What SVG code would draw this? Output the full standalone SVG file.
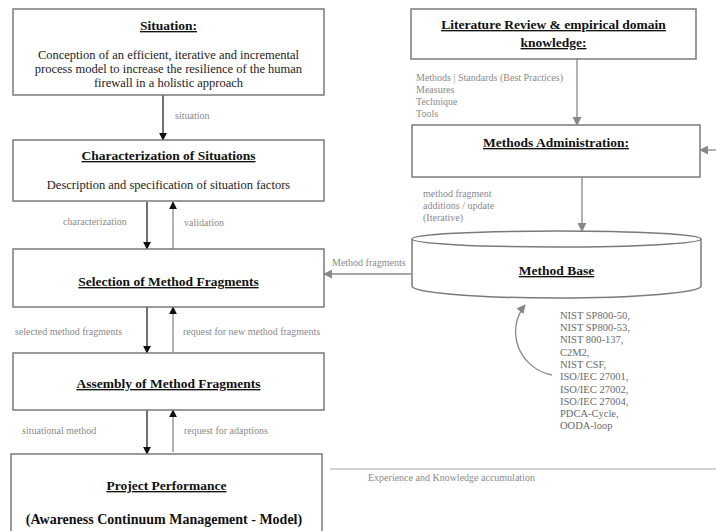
<svg xmlns="http://www.w3.org/2000/svg" width="716" height="531" viewBox="0 0 716 531">
<defs>
<style>
.box{fill:#fff;stroke:#7a7a7a;stroke-width:1.5}
.t{font-family:"Liberation Serif","Times New Roman",serif;font-weight:bold;font-size:13.5px;fill:#111;text-anchor:middle;text-decoration:underline}
.b{font-family:"Liberation Serif","Times New Roman",serif;font-size:12.5px;fill:#222;text-anchor:middle}
.l{font-family:"Liberation Serif","Times New Roman",serif;font-size:10px;fill:#8a8a8a}
.s{font-family:"Liberation Serif","Times New Roman",serif;font-size:10.5px;fill:#6a6a6a}
.ab{fill:none;stroke:#222;stroke-width:1.3}
.ag{fill:none;stroke:#888;stroke-width:1.3}
</style>
<marker id="hb" viewBox="0 0 10 10" refX="9" refY="5" markerWidth="8" markerHeight="8" orient="auto" markerUnits="userSpaceOnUse"><path d="M0,0 L10,5 L0,10 z" fill="#111"/></marker>
<marker id="hg" viewBox="0 0 10 10" refX="9" refY="5" markerWidth="9" markerHeight="9" orient="auto" markerUnits="userSpaceOnUse"><path d="M0,0 L10,5 L0,10 z" fill="#888"/></marker>
</defs>
<rect width="716" height="531" fill="#fff"/>

<g id="connectors">
<line class="ab" x1="163" y1="95" x2="163" y2="140" marker-end="url(#hb)"/>
<line class="ab" x1="147" y1="202" x2="147" y2="249" marker-end="url(#hb)"/>
<line class="ag" x1="173" y1="249" x2="173" y2="202" marker-end="url(#hb)"/>
<line class="ab" x1="147" y1="307" x2="147" y2="353" marker-end="url(#hb)"/>
<line class="ag" x1="173" y1="352" x2="173" y2="307" marker-end="url(#hb)"/>
<line class="ab" x1="147" y1="410" x2="147" y2="454" marker-end="url(#hb)"/>
<line class="ag" x1="173" y1="452" x2="173" y2="410" marker-end="url(#hb)"/>
<line class="ag" x1="577" y1="59" x2="577" y2="125" marker-end="url(#hg)"/>
<line class="ag" x1="582" y1="177" x2="582" y2="231" marker-end="url(#hg)"/>
<line class="ag" x1="411" y1="274" x2="324" y2="274" marker-end="url(#hg)"/>
<line class="ag" x1="716" y1="150" x2="700" y2="150" marker-end="url(#hg)"/>
<path class="ag" d="M552,375 C518,368 505,330 525,305" marker-end="url(#hg)"/>
<line x1="330" y1="469" x2="716" y2="469" stroke="#aaa" stroke-width="1.2"/>
<text class="l" x="175" y="118.5">situation</text>
<text class="l" x="63" y="224.5">characterization</text>
<text class="l" x="184" y="225.5">validation</text>
<text class="l" x="15" y="334.5">selected method fragments</text>
<text class="l" x="183" y="334.5">request for new method fragments</text>
<text class="l" x="22" y="433.5">situational method</text>
<text class="l" x="184" y="433.5">request for adaptions</text>
<text class="l" x="332" y="265.5">Method fragments</text>
<text class="l" x="416" y="80.5">Methods | Standards (Best Practices)</text>
<text class="l" x="416" y="92.5">Measures</text>
<text class="l" x="416" y="104.5">Technique</text>
<text class="l" x="416" y="116.5">Tools</text>
<text class="l" x="423" y="196.5">method fragment</text>
<text class="l" x="423" y="208.5">additions / update</text>
<text class="l" x="423" y="220.5">(Iterative)</text>
<text class="l" x="368" y="480.5">Experience and Knowledge accumulation</text>
</g>

<g id="situation">
<rect class="box" x="13" y="9" width="311" height="86"/>
<text class="t" x="168.5" y="30">Situation:</text>
<text class="b" x="168.5" y="59">Conception of an efficient, iterative and incremental</text>
<text class="b" x="168.5" y="73">process model to increase the resilience of the human</text>
<text class="b" x="168.5" y="87">firewall in a holistic approach</text>
</g>

<g id="characterization">
<rect class="box" x="13" y="140" width="311" height="61"/>
<text class="t" x="168.5" y="160">Characterization of Situations</text>
<text class="b" x="168.5" y="189">Description and specification of situation factors</text>
</g>

<g id="selection">
<rect class="box" x="13" y="249" width="311" height="58"/>
<text class="t" x="168.5" y="286">Selection of Method Fragments</text>
</g>

<g id="assembly">
<rect class="box" x="13" y="353" width="311" height="57"/>
<text class="t" x="168.5" y="388">Assembly of Method Fragments</text>
</g>

<g id="project">
<rect class="box" x="11" y="454" width="311" height="90"/>
<text class="t" x="166.5" y="490">Project Performance</text>
<text class="t" x="164" y="524" style="text-decoration:none;font-size:14px">(Awareness Continuum Management - Model)</text>
</g>

<g id="literature">
<rect class="box" x="411" y="9" width="285" height="50"/>
<text class="t" x="553.5" y="29">Literature Review &amp; empirical domain</text>
<text class="t" x="553.5" y="47">knowledge:</text>
</g>

<g id="administration">
<rect class="box" x="412" y="125" width="288" height="52"/>
<text class="t" x="556" y="147">Methods Administration:</text>
</g>

<g id="methodbase">
<path class="box" d="M412,239 L412,286 A144.5,12 0 0 0 701,286 L701,239"/>
<ellipse class="box" cx="556.5" cy="239" rx="144.5" ry="8"/>
<text class="t" x="556.5" y="275">Method Base</text>
</g>

<g id="standards">
<text class="s" x="560" y="318.7">NIST SP800-50,</text>
<text class="s" x="560" y="331">NIST SP800-53,</text>
<text class="s" x="560" y="343.3">NIST 800-137,</text>
<text class="s" x="560" y="355.6">C2M2,</text>
<text class="s" x="560" y="367.9">NIST CSF,</text>
<text class="s" x="560" y="380.2">ISO/IEC 27001,</text>
<text class="s" x="560" y="392.5">ISO/IEC 27002,</text>
<text class="s" x="560" y="404.8">ISO/IEC 27004,</text>
<text class="s" x="560" y="417.1">PDCA-Cycle,</text>
<text class="s" x="560" y="429.4">OODA-loop</text>
</g>
</svg>
